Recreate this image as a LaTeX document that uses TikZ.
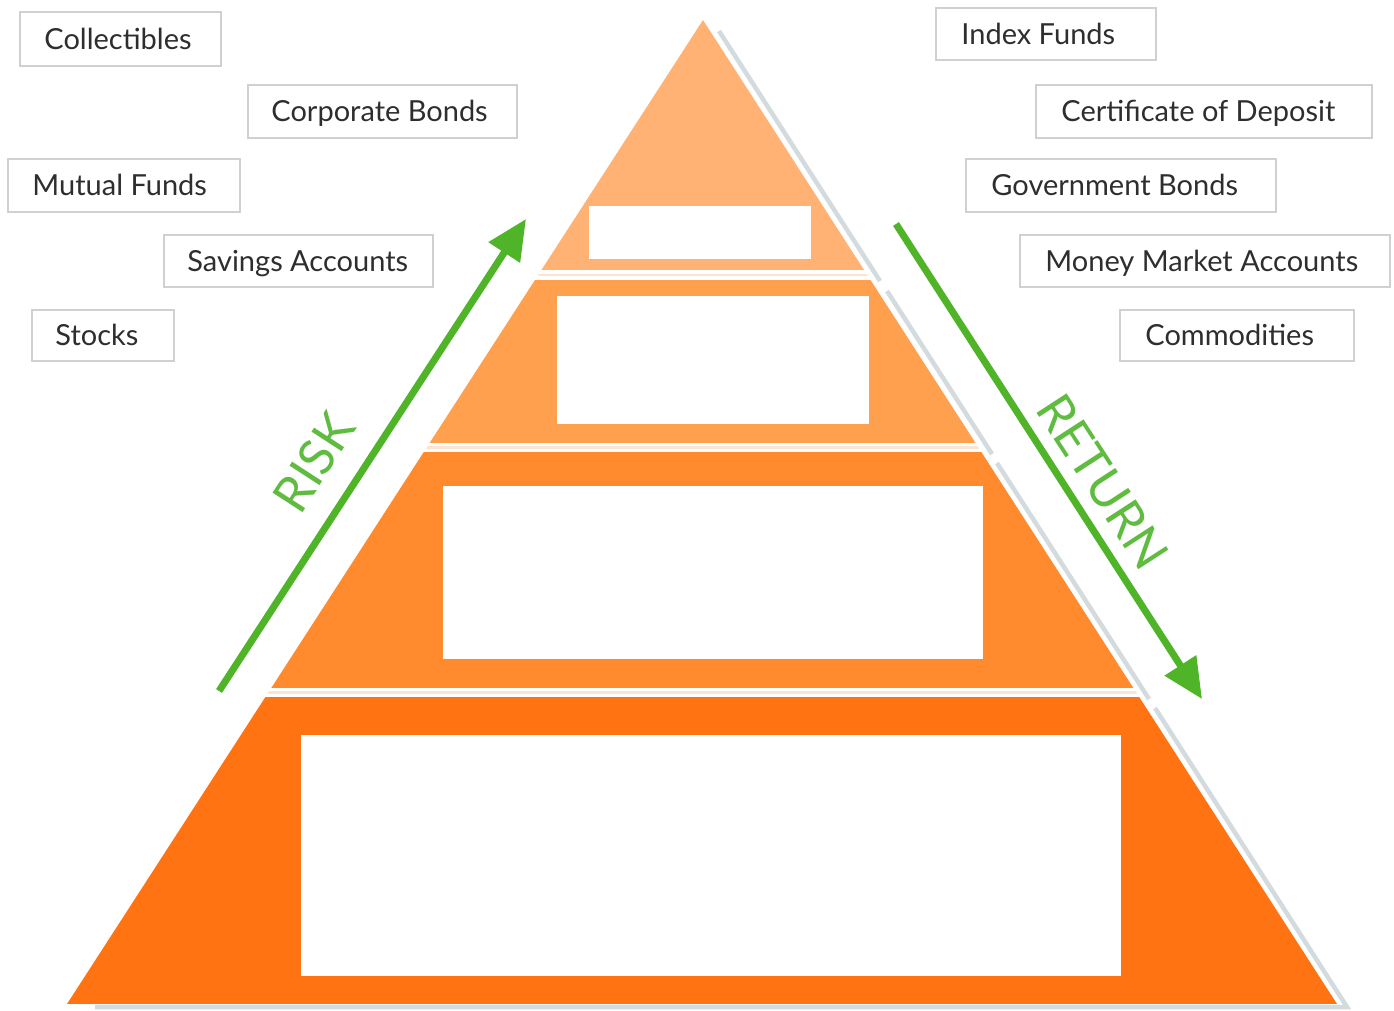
\documentclass[tikz,border=0pt]{standalone}
\usepackage{fontspec}
\setmainfont{Lato}
\usetikzlibrary{arrows.meta}
\definecolor{tierA}{HTML}{FFB273}
\definecolor{tierB}{HTML}{FFA04E}
\definecolor{tierC}{HTML}{FF8B2E}
\definecolor{tierD}{HTML}{FF7312}
\definecolor{paleline}{HTML}{FEE4CF}
\definecolor{shade}{HTML}{D3DBDF}
\definecolor{arrowgreen}{HTML}{4FB428}
\definecolor{textgreen}{HTML}{5FBC40}
\definecolor{boxline}{HTML}{D0D0D0}
\definecolor{labeltext}{HTML}{2E2E2E}
\begin{document}
\begin{tikzpicture}[x=1pt,y=-1pt,
  tagbox/.style={draw=boxline, line width=1.6pt, fill=white, inner sep=0pt},
  tagtext/.style={anchor=base west, inner sep=0pt, text=labeltext, font=\fontsize{29}{35}\selectfont},
  blank/.style={fill=white, draw=none, inner sep=0pt},
  shadowline/.style={draw=shade, line width=4.5pt},
  growth/.style={draw=arrowgreen, line width=7pt, -{Triangle[length=40pt,width=36pt]}},
  axislabel/.style={text=textgreen, inner sep=0pt, font=\fontsize{50}{56}\selectfont}]
\useasboundingbox (0,0) rectangle (1394,1010);
\fill[white] (0,0) rectangle (1394,1010);

% shadows along right edge and base
\draw[shadowline] (719,31) -- (880,281);
\draw[shadowline] (887,291) -- (992,454);
\draw[shadowline] (997,463) -- (1149,699);
\draw[shadowline] (1155,708) -- (1347,1007) -- (95,1007);

% pyramid tiers
\begin{scope}
  \clip (703,20) -- (67,1004) -- (1337,1004) -- cycle;
  \fill[tierA] (0,0) rectangle (1394,270);
  \fill[tierB] (0,280) rectangle (1394,443);
  \fill[tierC] (0,452) rectangle (1394,688);
  \fill[tierD] (0,697) rectangle (1394,1004);
  \draw[paleline, line width=2.5pt] (0,275) -- (1394,275);
  \draw[paleline, line width=2.5pt] (0,447.5) -- (1394,447.5);
  \draw[paleline, line width=2.5pt] (0,692.5) -- (1394,692.5);
\end{scope}

% white content boxes
\node[blank, minimum width=222pt, minimum height=53pt] (w1) at (700,232.5) {};
\node[blank, minimum width=312pt, minimum height=128pt] (w2) at (713,360) {};
\node[blank, minimum width=540pt, minimum height=173pt] (w3) at (713,572.5) {};
\node[blank, minimum width=820pt, minimum height=241pt] (w4) at (711,855.5) {};

% arrows
\coordinate (riskS) at (219,691);
\coordinate (riskE) at (526,219);
\coordinate (retS) at (896,224);
\coordinate (retE) at (1202,699);
\draw[growth] (riskS) -- (riskE);
\draw[growth] (retS) -- (retE);
\node[axislabel, rotate=57] (risk) at (314,462) {RISK};
\node[axislabel, rotate=-57] (ret) at (1103,482) {RETURN};

% left labels
\node[tagbox, minimum width=201pt, minimum height=54pt] (bColl) at (120.5,39) {};
\node[tagtext] (tColl) at ([xshift=25pt,yshift=-10pt]bColl.west) {Collectibles};
\node[tagbox, minimum width=269pt, minimum height=53pt] (bCorp) at (382.5,111.5) {};
\node[tagtext] (tCorp) at ([xshift=24pt,yshift=-10pt]bCorp.west) {Corporate Bonds};
\node[tagbox, minimum width=232pt, minimum height=53pt] (bMut) at (124,185.5) {};
\node[tagtext] (tMut) at ([xshift=25pt,yshift=-10pt]bMut.west) {Mutual Funds};
\node[tagbox, minimum width=269pt, minimum height=52pt] (bSav) at (298.5,261) {};
\node[tagtext] (tSav) at ([xshift=24pt,yshift=-10pt]bSav.west) {Savings Accounts};
\node[tagbox, minimum width=142pt, minimum height=51pt] (bStk) at (103,335.5) {};
\node[tagtext] (tStk) at ([xshift=24pt,yshift=-10pt]bStk.west) {Stocks};

% right labels
\node[tagbox, minimum width=220pt, minimum height=52pt] (bIdx) at (1046,34) {};
\node[tagtext] (tIdx) at ([xshift=26pt,yshift=-10pt]bIdx.west) {Index Funds};
\node[tagbox, minimum width=336pt, minimum height=53pt] (bCD) at (1204,111.5) {};
\node[tagtext] (tCD) at ([xshift=26pt,yshift=-10pt]bCD.west) {Certificate of Deposit};
\node[tagbox, minimum width=310pt, minimum height=53pt] (bGov) at (1121,185.5) {};
\node[tagtext] (tGov) at ([xshift=26pt,yshift=-10pt]bGov.west) {Government Bonds};
\node[tagbox, minimum width=370pt, minimum height=52pt] (bMM) at (1205,261) {};
\node[tagtext] (tMM) at ([xshift=26pt,yshift=-10pt]bMM.west) {Money Market Accounts};
\node[tagbox, minimum width=234pt, minimum height=51pt] (bCom) at (1237,335.5) {};
\node[tagtext] (tCom) at ([xshift=26pt,yshift=-10pt]bCom.west) {Commodities};
\end{tikzpicture}
\end{document}
